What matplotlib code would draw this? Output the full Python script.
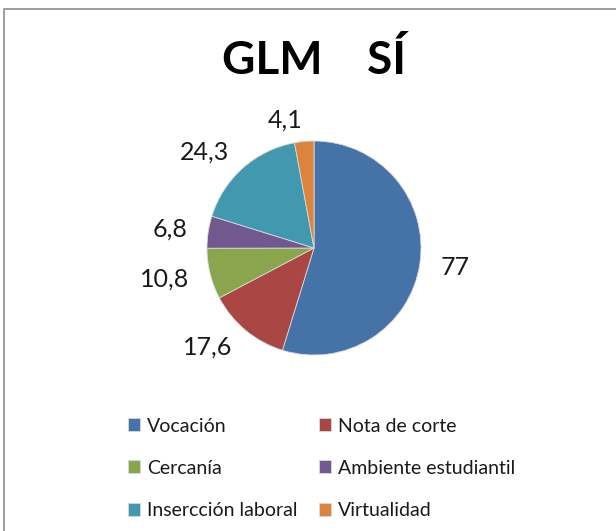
import matplotlib
matplotlib.use("Agg")
import matplotlib.pyplot as plt
from matplotlib.patches import Rectangle

categories = ["Vocación", "Nota de corte", "Cercanía", "Ambiente estudiantil",
              "Insercción laboral", "Virtualidad"]
values = [77, 17.6, 10.8, 6.8, 24.3, 4.1]
value_labels = ["77", "17,6", "10,8", "6,8", "24,3", "4,1"]
colors = ["#4572A7", "#AA4643", "#89A54E", "#71588F", "#4198AF", "#DB843D"]
title = "GLM    SÍ"

plt.rcParams['font.family'] = ['Lato', 'DejaVu Sans']

fig = plt.figure(figsize=(6.16, 5.31), dpi=100)
fig.patch.set_facecolor("white")

# outer chart border
fig.patches.append(Rectangle((4/616, -0.05), 1.1, 1 - 9/531 + 0.05,
                             transform=fig.transFigure, fill=False,
                             edgecolor="#8c8c8c", linewidth=1.2))

r_px = 107
cx, cy = 314, 248
ax = fig.add_axes([(cx - r_px) / 616, 1 - (cy + r_px) / 531,
                   2 * r_px / 616, 2 * r_px / 531])
wedges, texts = ax.pie(values, colors=colors, startangle=90, counterclock=False,
                       labels=value_labels, labeldistance=1.2,
                       wedgeprops=dict(linewidth=0.6, edgecolor="#d9d9d9"),
                       textprops=dict(fontsize=18, color="#1a1a1a"))
ax.set_xlim(-1, 1)
ax.set_ylim(-1, 1)
ax.set_aspect("equal")
for t in texts:
    t.set_va("center")
    t.set_clip_on(False)

fig.text(0.51, 1 - 61/531, title, ha="center", va="center",
         fontsize=33, fontweight="bold", color="black")

order = [0, 2, 4, 1, 3, 5]
leg = fig.legend([wedges[i] for i in order], [categories[i] for i in order],
                 loc="upper left", bbox_to_anchor=(110/616, 1 - 400/531), ncol=2,
                 frameon=False, fontsize=14, handlelength=0.65, handleheight=0.65,
                 handletextpad=0.35, labelspacing=1.3, columnspacing=1.1,
                 labelcolor="#1a1a1a")

fig.savefig("out.png", dpi=100)
